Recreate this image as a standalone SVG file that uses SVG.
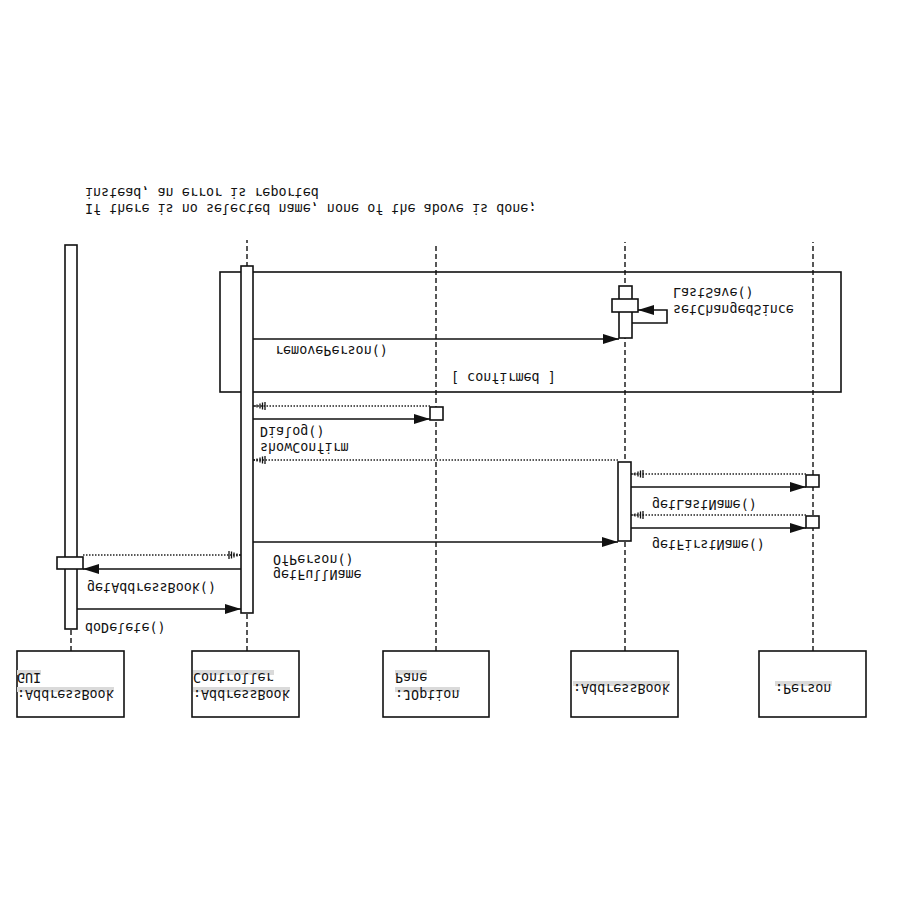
<svg xmlns="http://www.w3.org/2000/svg" width="900" height="900" viewBox="0 0 900 900">
<style>
text{font-family:"DejaVu Sans Mono","Liberation Mono",monospace;font-size:13.4px;fill:#111}
.box{fill:#fff;stroke:#111;stroke-width:1.6}
.life{stroke:#111;stroke-width:1.4;stroke-dasharray:5,3;fill:none}
.msg{stroke:#111;stroke-width:1.6;fill:none;marker-end:url(#solid)}
.ret{stroke:#222;stroke-width:1.3;stroke-dasharray:1.5,1.5;fill:none;marker-end:url(#hatch)}
.hl{fill:#dadada}
</style>
<defs>
<marker id="solid" markerUnits="userSpaceOnUse" markerWidth="18" markerHeight="12" refX="16" refY="5" orient="auto">
<path d="M0,0 L16,5 L0,10 z" fill="#111"/>
</marker>
<marker id="hatch" markerUnits="userSpaceOnUse" markerWidth="16" markerHeight="12" refX="14" refY="5" orient="auto">
<path d="M13,4 v2 M10,3.5 v3 M7,2.5 v5 M4.5,1.5 v7 M2,1 v8" stroke="#111" stroke-width="1.3" fill="none"/>
</marker>
</defs>
<g transform="matrix(1 0 0 -1 0 900)">
<g id="note">
<text x="85" y="696">If there is no selected name, none of the above is done;</text>
<text x="85" y="712">instead, an error is reported</text>
</g>
<g id="frame-confirmed">
<rect x="220" y="508" width="621" height="120" fill="none" stroke="#111" stroke-width="1.6"/>
<text x="451" y="527">[ confirmed ]</text>
</g>
<g id="node-gui">
<line class="life" x1="71" y1="249" x2="71" y2="271"/>
<rect class="box" x="65" y="271" width="12" height="384"/>
<rect class="box" x="57" y="331" width="26" height="12"/>
<rect class="box" x="17" y="183" width="107" height="66"/>
<rect class="hl" x="17" y="208" width="97" height="5"/>
<rect class="hl" x="17" y="225" width="24" height="5"/>
<text x="17" y="210">:AddressBook</text>
<text x="17" y="227">GUI</text>
</g>
<g id="node-controller">
<line class="life" x1="247" y1="249" x2="247" y2="660"/>
<rect class="box" x="241" y="287" width="12" height="347"/>
<rect class="box" x="192" y="183" width="107" height="66"/>
<rect class="hl" x="193" y="208" width="97" height="5"/>
<rect class="hl" x="193" y="225" width="81" height="5"/>
<text x="193" y="210">:AddressBook</text>
<text x="193" y="227">Controller</text>
</g>
<g id="node-joptionpane">
<line class="life" x1="436" y1="249" x2="436" y2="655"/>
<rect class="box" x="430" y="480" width="13" height="13"/>
<rect class="box" x="383" y="183" width="106" height="66"/>
<rect class="hl" x="395" y="208" width="65" height="5"/>
<rect class="hl" x="395" y="225" width="32" height="5"/>
<text x="395" y="210">:JOption</text>
<text x="395" y="227">Pane</text>
</g>
<g id="node-addressbook">
<line class="life" x1="625" y1="249" x2="625" y2="658"/>
<rect class="box" x="618" y="359" width="13" height="79"/>
<rect class="box" x="619" y="562" width="13" height="52"/>
<rect class="box" x="612" y="588" width="26" height="13"/>
<rect class="box" x="571" y="183" width="107" height="66"/>
<rect class="hl" x="573" y="214" width="97" height="5"/>
<text x="573" y="216">:AddressBook</text>
</g>
<g id="node-person">
<line class="life" x1="813" y1="249" x2="813" y2="658"/>
<rect class="box" x="806" y="413" width="13" height="12"/>
<rect class="box" x="806" y="372" width="13" height="12"/>
<rect class="box" x="759" y="183" width="107" height="66"/>
<rect class="hl" x="775" y="214" width="57" height="5"/>
<text x="775" y="216">:Person</text>
</g>
<g id="connectors">
<line class="msg" x1="77" y1="291" x2="241" y2="291"/>
<text x="85" y="277">doDelete()</text>
<line class="msg" x1="241" y1="331" x2="83" y2="331"/>
<text x="87" y="317">getAddressBook()</text>
<line class="ret" x1="83" y1="345" x2="241" y2="345"/>
<line class="msg" x1="253" y1="358" x2="618" y2="358"/>
<text x="273" y="330">getFullName</text>
<text x="273" y="345">OfPerson()</text>
<line class="msg" x1="631" y1="372" x2="806" y2="372"/>
<text x="652" y="360">getFirstName()</text>
<line class="ret" x1="806" y1="385" x2="631" y2="385"/>
<line class="msg" x1="631" y1="413" x2="806" y2="413"/>
<text x="652" y="400">getLastName()</text>
<line class="ret" x1="806" y1="426" x2="631" y2="426"/>
<line class="ret" x1="618" y1="440" x2="253" y2="440"/>
<line class="msg" x1="253" y1="481" x2="430" y2="481"/>
<text x="260" y="457">showConfirm</text>
<text x="260" y="473">Dialog()</text>
<line class="ret" x1="430" y1="494" x2="253" y2="494"/>
<line class="msg" x1="253" y1="561" x2="619" y2="561"/>
<text x="275" y="554">removePerson()</text>
<path class="msg" d="M632,577 H667 V590 H638"/>
<text x="673" y="595">setChangedSince</text>
<text x="673" y="612">LastSave()</text>
</g>
</g>
</svg>
